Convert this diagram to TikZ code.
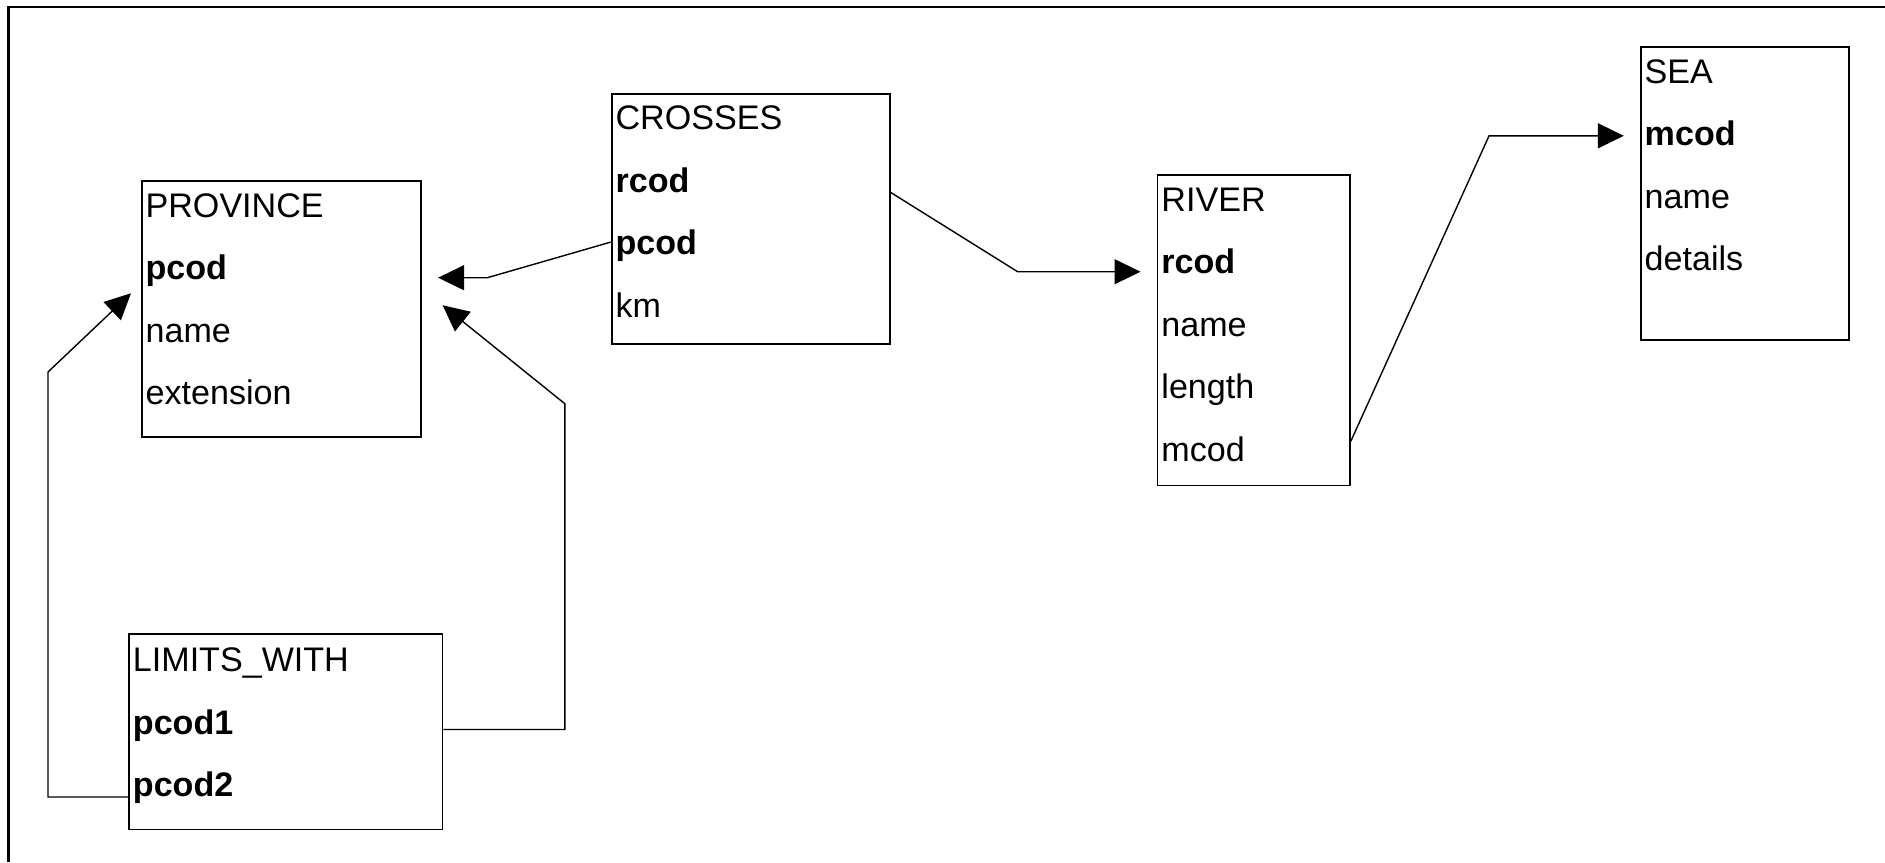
\documentclass[tikz,border=0pt]{standalone}
\usepackage{fontspec}
\setmainfont{Liberation Sans}
\usetikzlibrary{arrows.meta,positioning}

\begin{document}
\begin{tikzpicture}[
  node distance=0.625cm,
  entity/.style={rectangle, draw, line width=0.55pt, anchor=north west, inner sep=0pt},
  field/.style={anchor=west, inner xsep=1.2pt, inner ysep=0pt, text height=0.32cm, text depth=0.07cm, font=\fontsize{9.7pt}{11pt}\selectfont},
  keyfield/.style={field, font=\fontsize{9.7pt}{11pt}\selectfont\bfseries},
  arr/.style={-{Triangle[length=2.6mm, width=2.5mm]}, line width=0.4pt}
]
\useasboundingbox (0,0) rectangle (18.85,-8.62);
\draw[line width=0.6pt] (0.085,-8.62) |- (18.85,-0.07);

% PROVINCE
\node[entity, minimum width=2.79cm, minimum height=2.56cm] (prov) at (1.407,-1.803) {};
\node[below=0.245cm of prov.north west, field] (prov0) {PROVINCE};
\node[below=of prov0.west, keyfield] (prov1) {pcod};
\node[below=of prov1.west, field] (prov2) {name};
\node[below=of prov2.west, field] (prov3) {extension};

% CROSSES
\node[entity, minimum width=2.78cm, minimum height=2.50cm] (cros) at (6.107,-0.926) {};
\node[below=0.245cm of cros.north west, field] (cros0) {CROSSES};
\node[below=of cros0.west, keyfield] (cros1) {rcod};
\node[below=of cros1.west, keyfield] (cros2) {pcod};
\node[below=of cros2.west, field] (cros3) {km};

% RIVER
\node[entity, minimum width=1.924cm, minimum height=3.102cm] (riv) at (11.565,-1.743) {};
\node[below=0.245cm of riv.north west, field] (riv0) {RIVER};
\node[below=of riv0.west, keyfield] (riv1) {rcod};
\node[below=of riv1.west, field] (riv2) {name};
\node[below=of riv2.west, field] (riv3) {length};
\node[below=of riv3.west, field] (riv4) {mcod};

% SEA
\node[entity, minimum width=2.079cm, minimum height=2.93cm] (sea) at (16.398,-0.46) {};
\node[below=0.245cm of sea.north west, field] (sea0) {SEA};
\node[below=of sea0.west, keyfield] (sea1) {mcod};
\node[below=of sea1.west, field] (sea2) {name};
\node[below=of sea2.west, field] (sea3) {details};

% LIMITS_WITH
\node[entity, minimum width=3.135cm, minimum height=1.955cm] (lim) at (1.28,-6.33) {};
\node[below=0.26cm of lim.north west, field] (lim0) {LIMITS\_WITH};
\node[below=of lim0.west, keyfield] (lim1) {pcod1};
\node[below=of lim1.west, keyfield] (lim2) {pcod2};

% foreign keys
\draw[arr, shorten >=0.165cm] (cros2.west) -- ++(-1.234,-0.356) coordinate (c1) -- (c1 -| prov.east);
\draw[arr, shorten >=0.16cm] (cros.east |- cros1.west) ++(0,-0.128) -- ++(1.27,-0.793) coordinate (c2) -- (c2 -| riv.west);
\draw[arr, shorten >=0.16cm] (riv.east |- riv4.west) ++(0,0.076) -- ++(1.382,3.054) coordinate (c3) -- (c3 -| sea.west);
\draw[arr] (lim2.west) ++(0,-0.13) -| ++(-0.80,4.25) -- ([shift={(-0.097,0.16)}]prov.west);
\draw[arr] (lim.east |- lim1.west) ++(0,-0.08) -| ++(1.214,3.258) -- ([shift={(0.21,0.04)}]prov.east);
\end{tikzpicture}
\end{document}
